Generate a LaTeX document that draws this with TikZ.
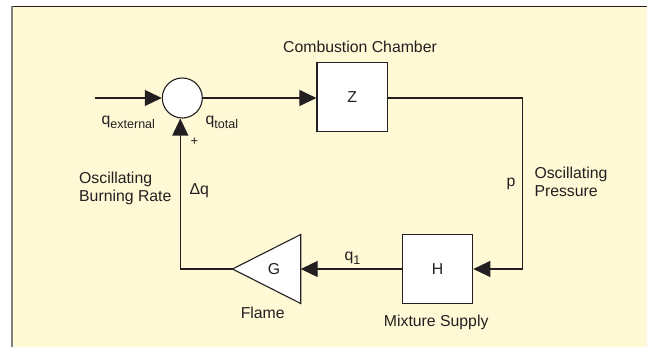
\documentclass[tikz,border=0pt]{standalone}
\usepackage{fontspec}
\setmainfont{Liberation Sans}
\usetikzlibrary{arrows.meta}
\definecolor{bg}{HTML}{FFF9D6}
\definecolor{ink}{HTML}{231F20}
\newcommand{\mysub}[1]{\raisebox{-3.6pt}{\fontsize{12.5}{13}\selectfont #1}}
\begin{document}
\begin{tikzpicture}[x=1pt,y=-1pt,
  font=\fontsize{15.8}{18.4}\selectfont,
  wire/.style={draw=ink, line width=1.1pt},
  arr/.style={wire, -{Triangle[length=17pt,width=16pt]}},
  blockbox/.style={draw=ink, line width=1.1pt, fill=white, minimum width=70.5pt, minimum height=68.5pt, inner sep=0pt, text=ink},
  lbl/.style={text=ink, inner sep=0pt}]
\useasboundingbox (0,0) rectangle (647,347);
\fill[white] (0,0) rectangle (647,347);
\fill[bg] (12,6.5) rectangle (647,347);
\draw[ink, line width=1pt] (12,6.5) -- (647,6.5);
\draw[gray, line width=1.6pt] (12,6.5) -- (12,347);

% blocks
\node[circle, draw=ink, fill=white, line width=1.1pt, minimum size=40pt, inner sep=0pt] (sum) at (182.3,98) {};
\node[blockbox] (Z) at (352.2,97) {Z};
\node[blockbox] (H) at (437.5,269) {H};
\coordinate (Gapex) at (232.5,269);
\coordinate (Gbase) at (300.7,269);
\draw[wire, fill=white, line join=miter] (Gapex) -- (300.7,234.5) -- (300.7,303.5) -- cycle;
\node[lbl] (G) at (274,269) {G};

% connectors
\coordinate (in) at (95,98);
\coordinate (R) at (522.6,98);
\coordinate (L) at (180.3,269);
\draw[arr] (in) -- (sum.west);
\draw[arr] (sum.east) -- (sum.east -| Z.west);
\draw[arr] (Z.east |- sum) -- (R) |- (H.east);
\draw[arr] (H.west) -- (Gbase);
\draw[arr] (Gapex) -- (L) -- (L |- sum.south);

% labels
\node[lbl, anchor=base] (cc) at (360,52.7) {Combustion Chamber};
\node[lbl, anchor=base west] (qext) at (101.5,125) {q\mysub{external}};
\node[lbl, anchor=base west] (qtot) at (205.5,125) {q\mysub{total}};
\node[lbl, font=\fontsize{13}{14}\selectfont] (plus) at (194.5,142) {+};
\node[lbl, anchor=west, align=left] (obr) at (79,188.5) {Oscillating\\Burning Rate};
\node[lbl, anchor=base west] (dq) at (189.3,195) {Δq};
\node[lbl, anchor=base east] (p) at (515.5,186.5) {p};
\node[lbl, anchor=west, align=left] (op) at (534.3,182) {Oscillating\\Pressure};
\node[lbl, anchor=base west] (q1) at (344.3,260.5) {q\mysub{1}};
\node[lbl, anchor=base] (flame) at (262.7,318.3) {Flame};
\node[lbl, anchor=base] (ms) at (436.2,326) {Mixture Supply};
\end{tikzpicture}
\end{document}
